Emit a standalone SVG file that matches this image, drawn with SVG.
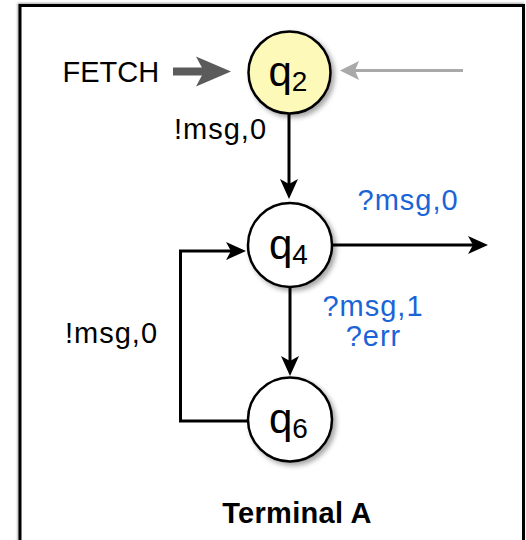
<svg xmlns="http://www.w3.org/2000/svg" width="526" height="540" viewBox="0 0 526 540">
  <defs>
    <filter id="sh" x="-30%" y="-30%" width="170%" height="170%">
      <feDropShadow dx="3" dy="3" stdDeviation="2.5" flood-color="#000" flood-opacity="0.35"/>
    </filter>
    <filter id="fsh" x="-5%" y="-5%" width="110%" height="110%">
      <feDropShadow dx="-1" dy="-1" stdDeviation="0.8" flood-color="#000" flood-opacity="0.35"/>
    </filter>
    <marker id="ah" viewBox="0 0 20 18" markerWidth="20" markerHeight="18" refX="5" refY="9" orient="auto" markerUnits="userSpaceOnUse">
      <path d="M0,0 L20,9 L0,18 L5,9 z" fill="#000"/>
    </marker>
    <style>
      .t { font-family: "Liberation Sans", Arial, sans-serif; font-size: 29px; }
      .ls { letter-spacing: 1px; }
      .blue { fill: #1a64d8; }
      .q { font-family: "Liberation Sans", Arial, sans-serif; font-size: 42px; fill: #000; }
      .sub { font-size: 28px; }
      .node { stroke: #000; stroke-width: 2.5; filter: url(#sh); }
      .edge { fill: none; stroke: #000; stroke-width: 3; marker-end: url(#ah); }
    </style>
  </defs>
  <rect x="0" y="0" width="526" height="540" fill="#fff"/>
  <rect id="frame" x="20" y="5.5" width="503.5" height="600" fill="#fff" stroke="#000" stroke-width="3" filter="url(#fsh)"/>

  <g id="connectors">
    <line x1="173" y1="71.5" x2="206" y2="71.5" stroke="#5b5b5b" stroke-width="8"/>
    <path d="M231,71.5 L196,56.5 L204,71.5 L196,86.5 z" fill="#5b5b5b"/>
    <line x1="463" y1="70.5" x2="353" y2="70.5" stroke="#a9a9a9" stroke-width="3"/>
    <path d="M340,70.5 L359,61 L355,70.5 L359,80 z" fill="#a9a9a9"/>
    <line class="edge" x1="289" y1="113" x2="289" y2="184"/>
    <line class="edge" x1="333" y1="245" x2="473" y2="245"/>
    <line class="edge" x1="290" y1="287" x2="290" y2="361"/>
    <polyline class="edge" points="248,421 180.5,421 180.5,251 231,251"/>
  </g>

  <g id="q2">
    <circle class="node" cx="289.5" cy="72.5" r="41" fill="#fdf9b9"/>
    <text class="q" x="268.5" y="86">q<tspan class="sub" dy="5">2</tspan></text>
  </g>
  <g id="q4">
    <circle class="node" cx="290" cy="245" r="42" fill="#fff"/>
    <text class="q" x="269" y="258.5">q<tspan class="sub" dy="5">4</tspan></text>
  </g>
  <g id="q6">
    <circle class="node" cx="290" cy="419.5" r="42" fill="#fff"/>
    <text class="q" x="269" y="433">q<tspan class="sub" dy="5">6</tspan></text>
  </g>

  <g id="labels">
    <text class="t" x="62.5" y="81.7">FETCH</text>
    <text class="t ls" x="174" y="139.3">!msg,0</text>
    <text class="t blue ls" x="357.5" y="210">?msg,0</text>
    <text class="t blue ls" x="373" y="315.5" text-anchor="middle" font-size="28">?msg,1</text>
    <text class="t blue ls" x="373.5" y="346" text-anchor="middle" font-size="28">?err</text>
    <text class="t ls" x="65" y="343.3">!msg,0</text>
    <text class="t" x="297" y="522.7" text-anchor="middle" font-weight="bold" font-size="30" letter-spacing="0.3">Terminal A</text>
  </g>
</svg>
